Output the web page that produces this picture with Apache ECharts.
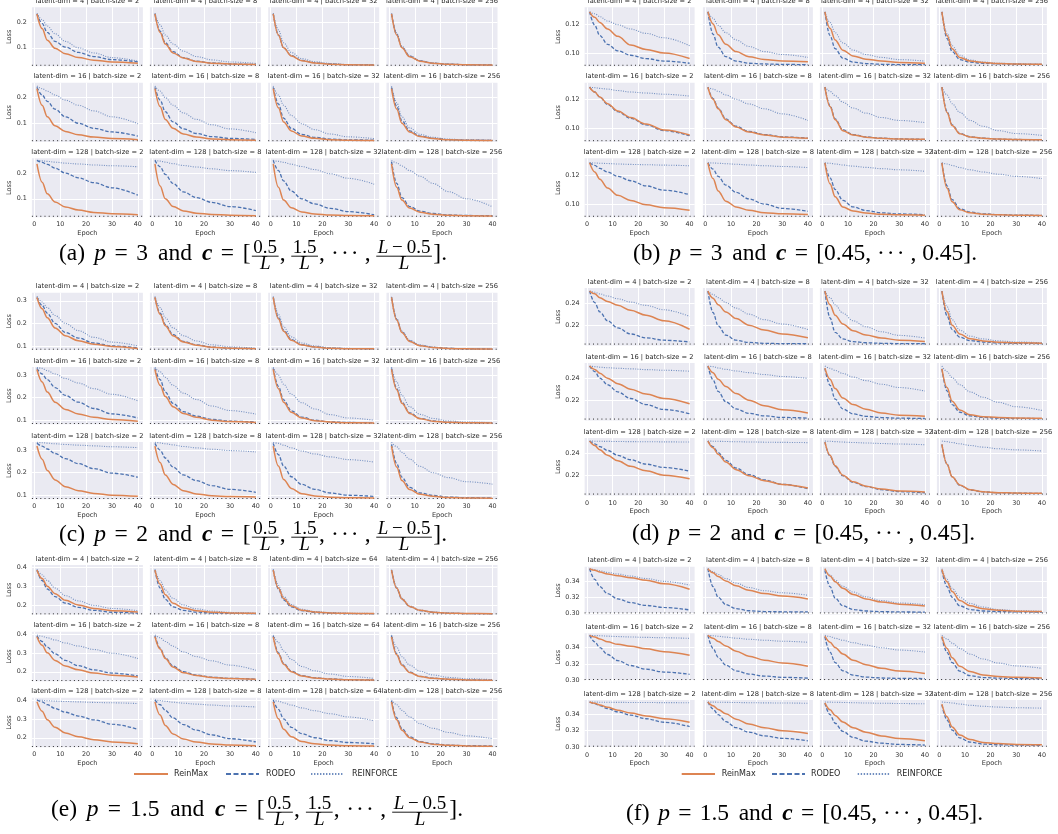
<!DOCTYPE html>
<html><head><meta charset="utf-8">
<script src="https://cdn.jsdelivr.net/npm/echarts@6/dist/echarts.min.js"></script>
<style>html,body{margin:0;padding:0;background:#fff}#c{width:1058px;height:834px}</style>
</head><body><div id="c"></div>
<script>
// ---------------- DATA ----------------
const epochs = [1, 3, 5, 8, 12, 17, 23, 30, 40];
const xTicks = [0, 10, 20, 30, 40];
const latentDims = [4, 16, 128];
const batchSizesMain = [2, 8, 32, 256];
const batchSizesE = [2, 8, 64, 256];
const methods = ['ReinMax', 'RODEO', 'REINFORCE'];
const yTicksA = [0.1, 0.2];
const yTicksB = [0.10, 0.12];
const yTicksC = [0.1, 0.2, 0.3];
const yTicksD = [0.22, 0.24];
const yTicksE = [0.2, 0.3, 0.4];
const yTicksF = [0.30, 0.32, 0.34];
const optimalLoss = [0.032, 0.0916, 0.0855, 0.2033, 0.1535, 0.3008]; // panels a..f

// each array: 12 subplots (rows latent 4/16/128, cols batch sizes), values at `epochs`
const A_reinmax = [
 [.232,.175,.13,.098,.077,.062,.052,.045,.04],[.232,.16,.115,.08,.06,.047,.04,.037,.035],[.232,.15,.10,.068,.05,.041,.036,.034,.033],[.232,.15,.10,.065,.048,.04,.036,.034,.033],
 [.235,.17,.125,.09,.068,.055,.046,.04,.036],[.235,.165,.115,.08,.058,.046,.039,.036,.034],[.235,.16,.105,.07,.05,.041,.036,.034,.033],[.235,.155,.10,.066,.048,.04,.036,.034,.033],
 [.236,.165,.12,.088,.068,.056,.047,.042,.038],[.236,.15,.1,.07,.053,.044,.039,.036,.034],[.236,.145,.095,.065,.049,.041,.037,.035,.034],[.236,.145,.095,.064,.048,.04,.036,.034,.033]];
const A_rodeo = [
 [.232,.195,.16,.125,.103,.082,.066,.054,.045],[.232,.165,.12,.085,.062,.048,.041,.037,.035],[.232,.15,.10,.07,.051,.042,.037,.034,.033],[.232,.152,.102,.067,.049,.04,.036,.034,.033],
 [.24,.21,.185,.155,.125,.1,.08,.066,.05],[.24,.19,.145,.105,.078,.06,.048,.041,.037],[.24,.175,.12,.08,.056,.045,.038,.035,.034],[.24,.165,.11,.07,.05,.041,.036,.034,.033],
 [.25,.242,.234,.22,.2,.182,.163,.143,.114],[.25,.225,.195,.16,.127,.105,.086,.07,.054],[.25,.21,.17,.13,.1,.08,.063,.05,.038],[.245,.16,.105,.07,.052,.043,.037,.035,.034]];
const A_reinforce = [
 [.235,.21,.185,.155,.125,.10,.08,.062,.048],[.235,.19,.15,.115,.087,.066,.053,.045,.039],[.235,.17,.12,.082,.058,.046,.039,.035,.034],[.234,.157,.106,.07,.05,.041,.037,.034,.033],
 [.245,.235,.225,.21,.19,.17,.148,.125,.098],[.245,.225,.2,.17,.14,.115,.094,.078,.063],[.245,.21,.17,.13,.098,.075,.058,.047,.04],[.245,.18,.125,.082,.057,.045,.038,.035,.034],
 [.25,.248,.246,.243,.239,.236,.232,.229,.225],[.25,.247,.243,.237,.23,.224,.217,.21,.203],[.25,.246,.242,.235,.226,.214,.198,.18,.157],[.25,.24,.228,.21,.188,.16,.128,.1,.069]];

const B_reinmax = [
 [.1283,.1245,.121,.1165,.1115,.1055,.1025,.1,.0962],[.1283,.12,.1125,.106,.101,.0975,.0955,.0945,.094],[.1283,.117,.109,.102,.098,.0958,.0945,.0935,.093],[.1283,.112,.103,.097,.0945,.0935,.0928,.0925,.0923],
 [.1283,.125,.1215,.117,.112,.1075,.103,.099,.0955],[.1283,.12,.1135,.106,.101,.0975,.0955,.094,.0932],[.1283,.115,.106,.0985,.0955,.094,.0932,.0928,.0925],[.1283,.111,.102,.0963,.0942,.0933,.0927,.0924,.0922],
 [.1283,.122,.117,.111,.106,.1025,.0995,.0975,.0958],[.1283,.1175,.109,.102,.098,.0957,.094,.0933,.0928],[.1283,.114,.105,.098,.0952,.0938,.093,.0926,.0923],[.1283,.111,.1015,.096,.094,.093,.0926,.0923,.0922]];
const B_rodeo = [
 [.1283,.119,.112,.106,.1015,.0985,.0962,.0945,.093],[.1283,.113,.104,.0975,.0945,.093,.0925,.0922,.092],[.1283,.112,.103,.0965,.0938,.0928,.0923,.092,.092],[.1283,.11,.101,.0955,.0937,.093,.0926,.0923,.0922],
 [.1283,.125,.1215,.1165,.1115,.107,.1025,.0985,.095],[.1283,.1205,.114,.1065,.1015,.098,.0958,.0942,.0933],[.1283,.1155,.1065,.099,.0958,.0942,.0933,.0928,.0925],[.1283,.1115,.1025,.0965,.0943,.0933,.0927,.0924,.0922],
 [.1283,.1265,.1245,.122,.119,.116,.1125,.1095,.1065],[.1283,.124,.119,.113,.108,.1035,.1,.097,.095],[.1283,.118,.11,.1025,.098,.0955,.094,.0932,.0927],[.1283,.1125,.103,.0968,.0945,.0933,.0927,.0924,.0922]];
const B_reinforce = [
 [.1283,.127,.125,.122,.1195,.1165,.1135,.1105,.105],[.1283,.124,.119,.114,.109,.1045,.101,.099,.097],[.1283,.121,.114,.107,.102,.099,.097,.0955,.0945],[.1283,.1135,.105,.0985,.0952,.0938,.093,.0926,.0923],
 [.1283,.128,.1275,.127,.126,.125,.1243,.1235,.1222],[.1283,.127,.1255,.123,.12,.1168,.1135,.11,.1055],[.1283,.1255,.1225,.118,.114,.1105,.1075,.1055,.104],[.1283,.123,.117,.111,.1055,.1015,.0985,.0965,.0952],
 [.1283,.1282,.128,.1278,.1275,.1272,.127,.1267,.1263],[.1283,.1282,.128,.1277,.1273,.1268,.1263,.1258,.125],[.1283,.128,.1275,.1268,.126,.1252,.1243,.1235,.1225],[.1283,.1275,.1265,.125,.1235,.122,.1205,.119,.1175]];

const C_reinmax = [
 [.315,.265,.225,.18,.145,.123,.108,.098,.089],[.315,.24,.19,.145,.118,.103,.094,.09,.088],[.315,.22,.165,.125,.104,.095,.09,.088,.087],[.315,.215,.16,.12,.101,.093,.089,.087,.086],
 [.325,.27,.225,.18,.148,.128,.113,.103,.095],[.325,.255,.205,.16,.13,.113,.1,.094,.09],[.325,.24,.18,.135,.11,.098,.092,.089,.088],[.325,.235,.175,.13,.107,.096,.091,.089,.088],
 [.318,.26,.21,.168,.138,.12,.108,.1,.095],[.318,.245,.19,.148,.12,.106,.098,.094,.092],[.318,.23,.17,.13,.107,.097,.091,.089,.088],[.318,.225,.165,.125,.104,.095,.09,.088,.087]];
const C_rodeo = [
 [.315,.28,.245,.2,.16,.135,.113,.1,.092],[.315,.245,.195,.15,.12,.105,.095,.09,.088],[.315,.225,.17,.128,.106,.096,.09,.088,.087],[.315,.217,.162,.122,.102,.094,.089,.087,.086],
 [.33,.305,.28,.245,.21,.18,.152,.128,.11],[.33,.28,.225,.175,.138,.118,.104,.096,.092],[.33,.25,.19,.142,.114,.1,.093,.09,.088],[.33,.24,.18,.133,.108,.097,.091,.089,.088],
 [.33,.318,.305,.285,.262,.24,.218,.198,.18],[.33,.3,.265,.225,.19,.165,.143,.126,.113],[.33,.28,.23,.182,.148,.126,.11,.1,.095],[.325,.24,.18,.135,.11,.099,.092,.089,.088]];
const C_reinforce = [
 [.32,.295,.27,.235,.2,.168,.138,.117,.1],[.32,.27,.225,.18,.145,.122,.105,.096,.09],[.32,.24,.185,.14,.113,.1,.092,.089,.087],[.318,.222,.166,.125,.104,.095,.09,.087,.086],
 [.335,.33,.32,.305,.285,.265,.24,.215,.186],[.335,.315,.29,.255,.22,.192,.163,.143,.127],[.335,.3,.26,.215,.178,.15,.125,.11,.1],[.335,.27,.21,.16,.126,.108,.097,.092,.089],
 [.335,.333,.331,.328,.325,.322,.319,.315,.311],[.335,.332,.328,.323,.316,.31,.304,.298,.292],[.335,.33,.322,.31,.296,.283,.27,.258,.247],[.335,.315,.29,.26,.228,.2,.178,.16,.149]];

const D_reinmax = [
 [.2515,.249,.2455,.242,.2385,.234,.2295,.2245,.2168],[.2515,.245,.239,.2325,.2265,.2205,.216,.2125,.209],[.2515,.239,.2295,.2215,.2155,.2115,.2088,.2068,.2057],[.2515,.233,.2205,.2125,.2082,.2062,.205,.2044,.204],
 [.2515,.2485,.245,.2405,.2355,.2305,.226,.222,.2173],[.2515,.2455,.2395,.233,.2265,.2205,.2155,.2118,.2088],[.2495,.2395,.231,.2225,.2165,.2122,.2088,.2068,.2058],[.249,.232,.2195,.2115,.2072,.2055,.2047,.2043,.204],
 [.2515,.2475,.2435,.2385,.2335,.2285,.2245,.2205,.2173],[.2515,.2455,.2395,.2325,.2255,.22,.2155,.212,.2088],[.2505,.2385,.229,.2205,.2145,.2105,.2078,.2062,.2052],[.2485,.2305,.219,.2115,.2072,.2055,.2046,.2042,.204]];
const D_rodeo = [
 [.2515,.241,.2325,.2245,.218,.2125,.209,.2068,.2052],[.2515,.232,.22,.2115,.2068,.2048,.204,.2037,.2036],[.2515,.227,.214,.208,.2055,.2045,.204,.2037,.2036],[.2515,.229,.2165,.2095,.2065,.2052,.2044,.204,.2038],
 [.2515,.2465,.2405,.2345,.228,.222,.2165,.212,.2082],[.2515,.239,.2285,.219,.2125,.2085,.2062,.2048,.2042],[.2495,.234,.2215,.2125,.208,.2058,.2047,.2041,.2038],[.249,.229,.2165,.2095,.2062,.2048,.2042,.2039,.2037],
 [.2515,.249,.2465,.243,.2385,.2345,.2305,.2275,.2242],[.2515,.2465,.241,.234,.227,.221,.2162,.2122,.2082],[.2505,.238,.2285,.22,.214,.2102,.2073,.2055,.2045],[.2485,.2305,.219,.2113,.207,.2053,.2045,.2041,.2039]];
const D_reinforce = [
 [.2515,.2505,.249,.247,.2445,.2415,.2385,.2345,.2285],[.2515,.2485,.2455,.241,.236,.2305,.2255,.2215,.2165],[.2515,.2455,.239,.2315,.2245,.219,.2145,.2112,.2088],[.2515,.2375,.2255,.216,.2105,.208,.2062,.2052,.2045],
 [.2515,.251,.2505,.25,.2495,.249,.2483,.2477,.2468],[.2515,.251,.2498,.2485,.247,.2455,.2438,.242,.2403],[.2515,.2495,.2475,.2448,.2415,.2383,.235,.232,.2288],[.2515,.2465,.241,.2345,.228,.2232,.2185,.2145,.2112],
 [.2515,.2514,.2513,.2512,.2511,.251,.2509,.2508,.2506],[.2515,.2514,.2513,.2511,.2509,.2507,.2505,.2503,.2501],[.2515,.2513,.251,.2506,.2502,.2498,.2493,.2488,.2482],[.2515,.251,.2502,.249,.2475,.246,.2445,.2435,.2425]];

const E_reinmax = [
 [.385,.34,.3,.26,.225,.2,.182,.17,.163],[.385,.31,.255,.21,.185,.17,.162,.158,.156],[.385,.29,.235,.195,.173,.163,.158,.156,.155],[.385,.29,.232,.193,.172,.162,.157,.155,.154],
 [.385,.34,.3,.26,.23,.21,.193,.182,.172],[.385,.32,.27,.225,.195,.18,.17,.164,.16],[.385,.295,.24,.2,.178,.167,.161,.158,.156],[.385,.29,.235,.196,.175,.165,.16,.157,.155],
 [.39,.34,.295,.255,.225,.205,.19,.178,.168],[.39,.32,.265,.22,.193,.177,.167,.161,.158],[.39,.3,.245,.205,.18,.168,.161,.158,.156],[.39,.295,.24,.2,.177,.166,.16,.157,.155]];
const E_rodeo = [
 [.385,.33,.285,.245,.21,.188,.172,.162,.157],[.385,.29,.23,.19,.172,.163,.158,.156,.155],[.385,.285,.228,.19,.17,.162,.157,.155,.154],[.385,.288,.23,.192,.171,.162,.157,.155,.154],
 [.39,.36,.33,.295,.26,.232,.21,.193,.178],[.39,.325,.275,.23,.2,.182,.171,.165,.161],[.39,.3,.245,.203,.18,.168,.162,.158,.156],[.39,.295,.238,.198,.176,.166,.16,.157,.155],
 [.4,.39,.375,.355,.335,.315,.295,.272,.245],[.4,.375,.345,.305,.27,.24,.215,.195,.178],[.4,.35,.3,.255,.222,.2,.185,.175,.168],[.395,.305,.248,.205,.18,.168,.161,.158,.156]];
const E_reinforce = [
 [.39,.36,.33,.29,.25,.222,.198,.182,.17],[.39,.33,.28,.235,.2,.18,.168,.161,.157],[.39,.305,.245,.203,.178,.166,.16,.157,.155],[.388,.295,.236,.196,.174,.163,.158,.155,.154],
 [.395,.388,.38,.368,.352,.336,.318,.298,.27],[.395,.38,.36,.335,.305,.28,.258,.235,.208],[.395,.355,.31,.265,.228,.205,.188,.175,.165],[.395,.33,.28,.235,.203,.183,.17,.163,.158],
 [.4,.398,.396,.394,.392,.39,.387,.385,.381],[.4,.397,.393,.388,.383,.378,.373,.368,.363],[.4,.394,.385,.373,.358,.343,.327,.31,.29],[.4,.375,.345,.31,.275,.25,.228,.21,.195]];

const F_reinmax = [
 [.355,.353,.351,.3485,.3465,.344,.341,.3365,.3298],[.355,.35,.3455,.34,.334,.3285,.3245,.3215,.318],[.355,.346,.339,.331,.3235,.318,.3143,.3115,.3093],[.354,.339,.327,.316,.3095,.306,.304,.303,.3025],
 [.355,.353,.3505,.347,.344,.3415,.3385,.335,.3305],[.355,.3515,.3475,.342,.3355,.3295,.3245,.321,.3172],[.354,.3465,.34,.332,.3245,.319,.3145,.3112,.3082],[.3535,.339,.3275,.317,.3105,.3065,.3045,.3035,.3028],
 [.355,.3535,.3515,.3485,.345,.3415,.338,.3345,.3302],[.355,.3505,.346,.3405,.334,.328,.3235,.3198,.3165],[.354,.3455,.3385,.3305,.3235,.318,.3135,.3102,.3075],[.3525,.337,.3245,.3145,.309,.3055,.304,.303,.3025]];
const F_rodeo = [
 [.355,.342,.333,.3245,.318,.3135,.31,.3075,.3045],[.355,.333,.32,.311,.306,.3035,.3025,.3022,.302],[.353,.333,.319,.3095,.305,.3032,.3024,.302,.3018],[.353,.333,.32,.3095,.305,.3032,.3025,.3021,.3018],
 [.355,.347,.34,.3315,.324,.318,.3135,.31,.3072],[.355,.339,.328,.3185,.3115,.3075,.305,.3035,.3025],[.353,.3345,.3215,.3115,.3062,.3038,.3027,.3022,.302],[.3525,.334,.3215,.311,.3055,.3033,.3025,.3021,.3018],
 [.355,.353,.3505,.347,.343,.339,.3345,.3302,.3249],[.355,.3465,.3395,.331,.3235,.318,.3135,.3105,.3075],[.3535,.3395,.329,.319,.3115,.307,.3045,.303,.3022],[.3515,.333,.3205,.311,.3058,.3035,.3026,.3022,.3019]];
const F_reinforce = [
 [.355,.354,.3525,.3505,.3485,.346,.343,.3395,.335],[.355,.3515,.348,.343,.3375,.332,.328,.3255,.3225],[.355,.3475,.341,.3335,.3265,.3205,.316,.313,.311],[.355,.342,.331,.32,.3125,.308,.305,.3035,.3028],
 [.355,.3548,.3545,.354,.3535,.353,.3525,.352,.3513],[.355,.3545,.3538,.3528,.3515,.3502,.349,.3478,.3465],[.355,.3535,.3515,.349,.346,.343,.3398,.337,.3345],[.355,.3505,.3455,.339,.332,.326,.321,.3175,.3145],
 [.355,.3549,.3548,.3547,.3546,.3545,.3544,.3543,.3541],[.355,.3549,.3548,.3546,.3544,.3542,.354,.3538,.3535],[.355,.3549,.3547,.3545,.3542,.3538,.3535,.3532,.3528],[.355,.3545,.3538,.3525,.351,.3498,.3488,.348,.3475]];

// ---------------- LAYOUT / STYLE ----------------
const FONT = 'DejaVu Sans';
const SERIF = 'Liberation Serif';
const ORANGE = '#dd8452', BLUE = '#4c72b0';
const LEFT_X = [31.9, 149.9, 268.2, 386.5];
const RIGHT_X = [584.6, 702.9, 819.9, 936.9];

const panels = [
 {rm:A_reinmax, ro:A_rodeo, rf:A_reinforce, opt:optimalLoss[0], yt:yTicksA, dec:1, bs:batchSizesMain, xs:LEFT_X, w:111, ys:[7.3,82.7,158.3], h:59, yMin:0.028, yMax:0.258, ng:17},
 {rm:B_reinmax, ro:B_rodeo, rf:B_reinforce, opt:optimalLoss[1], yt:yTicksB, dec:2, bs:batchSizesMain, xs:RIGHT_X, w:110, ys:[7.3,82.7,158.3], h:59, yMin:0.0909, yMax:0.1314, ng:21},
 {rm:C_reinmax, ro:C_rodeo, rf:C_reinforce, opt:optimalLoss[2], yt:yTicksC, dec:1, bs:batchSizesMain, xs:LEFT_X, w:111, ys:[292.7,367,442], h:57.3, yMin:0.082, yMax:0.336, ng:17},
 {rm:D_reinmax, ro:D_rodeo, rf:D_reinforce, opt:optimalLoss[3], yt:yTicksD, dec:2, bs:batchSizesMain, xs:RIGHT_X, w:110, ys:[288,363,438], h:57.5, yMin:0.202, yMax:0.2543, ng:21},
 {rm:E_reinmax, ro:E_rodeo, rf:E_reinforce, opt:optimalLoss[4], yt:yTicksE, dec:1, bs:batchSizesE, xs:LEFT_X, w:111, ys:[565,631.7,697.7], h:49.5, yMin:0.15, yMax:0.412, ng:17},
 {rm:F_reinmax, ro:F_rodeo, rf:F_reinforce, opt:optimalLoss[5], yt:yTicksF, dec:2, bs:batchSizesMain, xs:RIGHT_X, w:110, ys:[566.7,633.3,700], h:47.7, yMin:0.299, yMax:0.3575, ng:21}
];
const XMIN = -0.95, XMAX = 41.95;

const grids = [], xAxes = [], yAxes = [], series = [], graphics = [];
const lab = {fontSize:6.4, color:'#333', fontFamily:FONT};

panels.forEach(P => {
  for (let r = 0; r < 3; r++) for (let c = 0; c < 4; c++) {
    const k = r*4 + c, gi = grids.length;
    const left = P.xs[c], top = P.ys[r];
    grids.push({left, top, width:P.w, height:P.h, show:true, backgroundColor:'#eaeaf2', borderWidth:0, containLabel:false, outerBoundsMode:'none'});
    xAxes.push({gridIndex:gi, type:'value', min:XMIN, max:XMAX,
      axisLine:{show:false}, axisTick:{show:false, customValues:xTicks},
      axisLabel:Object.assign({show:r===2, customValues:xTicks, margin:4.5, formatter:v=>String(Math.round(v))}, lab),
      splitLine:{show:true, lineStyle:{color:'#ffffff', width:1}},
      name: r===2 ? 'Epoch' : '', nameLocation:'middle', nameGap:12.5,
      nameTextStyle:{fontSize:6.6, color:'#333', fontFamily:FONT}});
    yAxes.push({gridIndex:gi, type:'value', min:P.yMin, max:P.yMax,
      axisLine:{show:false}, axisTick:{show:false, customValues:P.yt},
      axisLabel:Object.assign({show:c===0, customValues:P.yt, margin:5, formatter:v=>v.toFixed(P.dec)}, lab),
      splitLine:{show:true, lineStyle:{color:'#ffffff', width:1}},
      name: c===0 ? 'Loss' : '', nameLocation:'middle', nameRotate:90, nameGap:P.ng,
      nameTextStyle:{fontSize:6.6, color:'#333', fontFamily:FONT}});
    const base = {type:'line', xAxisIndex:gi, yAxisIndex:gi, symbol:'none', silent:true, animation:false};
    series.push(Object.assign({}, base, {data:[[XMIN, P.opt],[XMAX, P.opt]], lineStyle:{color:'#2a2a2a', width:1, type:[1,3.2]}}));
    const mk = (arr, ls) => Object.assign({}, base, {data:epochs.map((e,i)=>[e, arr[k][i]]), smooth:0.35, smoothMonotone:'x', lineStyle:ls});
    series.push(mk(P.rf, {color:BLUE, width:1.1, type:[1,1.4], opacity:0.75}));
    series.push(mk(P.ro, {color:BLUE, width:1.3, type:[3.5,1.8]}));
    series.push(mk(P.rm, {color:ORANGE, width:1.5}));
    graphics.push({type:'text', x:left + P.w/2, y:top - 6, silent:true,
      style:{text:'latent-dim = ' + latentDims[r] + ' | batch-size = ' + P.bs[c], align:'center', verticalAlign:'middle', fontSize:6.7, fontFamily:FONT, fill:'#262626'}});
  }
});

// ---------------- LEGENDS (e) and (f) ----------------
function legend(y, items) {
  const styles = [{stroke:ORANGE, lineWidth:2}, {stroke:BLUE, lineWidth:2, lineDash:[5,2.5]}, {stroke:BLUE, lineWidth:1.8, lineDash:[1.4,1.6], opacity:0.8}];
  items.forEach((it, i) => {
    graphics.push({type:'line', silent:true, shape:{x1:it[0], y1:y, x2:it[1], y2:y}, style:styles[i]});
    graphics.push({type:'text', silent:true, x:it[2], y:y, style:{text:methods[i], align:'left', verticalAlign:'middle', fontSize:8, fontFamily:FONT, fill:'#262626'}});
  });
}
legend(774, [[134,168,174],[226,259,266],[311,344,352]]);
legend(774, [[681.7,715,721.7],[772,805,811],[857.7,890,896.7]]);

// ---------------- CAPTIONS (flow layout between measured start/end) ----------------
const mctx = document.createElement('canvas').getContext('2d');
const CF = 23.5, CFS = 19, DOTGAP = 0.42;
function fontStr(st, size){ return (st==='r' ? '' : (st==='bi' ? 'italic bold ' : 'italic ')) + size + 'px "' + SERIF + '"'; }
function tw(s, st, size){ mctx.font = fontStr(st, size); return mctx.measureText(s).width; }
function txt(x, yMid, s, st, size){
  graphics.push({type:'text', silent:true, x, y:yMid, style:{text:s, align:'left', verticalAlign:'middle', fontSize:size, fontFamily:SERIF,
    fontStyle: st==='r' ? 'normal' : 'italic', fontWeight: st==='bi' ? 'bold' : 'normal', fill:'#000'}});
}
function seqW(parts, size){ return parts.reduce((a,p)=>a + tw(p[0], p[1], size), 0); }
function seqDraw(parts, x, yMid, size){ parts.forEach(p => { txt(x, yMid, p[0], p[1], size); x += tw(p[0], p[1], size); }); }
function tokW(t){
  if (t.k === 't') return tw(t.s, t.st, CF);
  if (t.k === 'd') return tw('·','r',CF) + 2*DOTGAP*CF;
  return Math.max(seqW(t.num, CFS), seqW(t.den, CFS)) + 4;
}
function flowCaption(tokens, x0, x1, base){
  let W = 0, G = 0;
  tokens.forEach(t => { W += tokW(t); G += (t.g || 0) * CF; });
  const gs = G > 0 ? (x1 - x0 - W) / G : 1;
  let x = x0;
  const mid = base - 0.34*CF;
  tokens.forEach(t => {
    x += (t.g || 0) * CF * gs;
    const w = tokW(t);
    if (t.k === 't') txt(x, mid, t.s, t.st, CF);
    else if (t.k === 'd') { for (let i = 0; i < 3; i++) txt(x + i*DOTGAP*CF, mid, '·', 'r', CF); }
    else {
      const bar = base - 5.8;
      const wn = seqW(t.num, CFS), wd = seqW(t.den, CFS);
      seqDraw(t.num, x + (w - wn)/2, bar - 1.6 - 0.34*CFS, CFS);
      seqDraw(t.den, x + (w - wd)/2, bar + 1.8 + 0.32*CFS, CFS);
      graphics.push({type:'line', silent:true, shape:{x1:x + 0.5, y1:bar, x2:x + w - 0.5, y2:bar}, style:{stroke:'#000', lineWidth:0.9}});
    }
    x += w;
  });
}
const T = (s, st, g) => ({k:'t', s, st, g});
const DOTS = g => ({k:'d', g});
const FRAC = (num, den, g) => ({k:'f', num, den, g});
const DEN = [['L','i']];
function leftTokens(label, pval){
  return [T('(' + label + ')','r',0), T('p','i',0.3), T('=','r',0.28), T(pval,'r',0.28), T('and','r',0.33), T('c','bi',0.33), T('=','r',0.28), T('[','r',0.28),
    FRAC([['0.5','r']], DEN, 0.03), T(',','r',0.02), FRAC([['1.5','r']], DEN, 0.17), T(',','r',0.02), DOTS(0.2), T(',','r',0.2),
    FRAC([['L','i'],['\u2009\u2212\u20090.5','r']], DEN, 0.17), T('].','r',0.03)];
}
function rightTokens(label, pval){
  return [T('(' + label + ')','r',0), T('p','i',0.3), T('=','r',0.28), T(pval,'r',0.28), T('and','r',0.33), T('c','bi',0.33), T('=','r',0.28),
    T('[0.45,','r',0.28), DOTS(0.2), T(',','r',0.2), T('0.45].','r',0.2)];
}
flowCaption(leftTokens('a','3'), 59, 447, 262);
flowCaption(leftTokens('c','2'), 59, 447, 543);
flowCaption(leftTokens('e','1.5'), 51, 463, 818);
flowCaption(rightTokens('b','3'), 633, 977, 262);
flowCaption(rightTokens('d','2'), 632, 975, 542.3);
flowCaption(rightTokens('f','1.5'), 626, 983, 822);

const chart = echarts.init(document.getElementById('c'), null, {renderer:'canvas', width:1058, height:834});
chart.setOption({animation:false, backgroundColor:'#ffffff', grid:grids, xAxis:xAxes, yAxis:yAxes, series:series, graphic:graphics});
</script></body></html>
